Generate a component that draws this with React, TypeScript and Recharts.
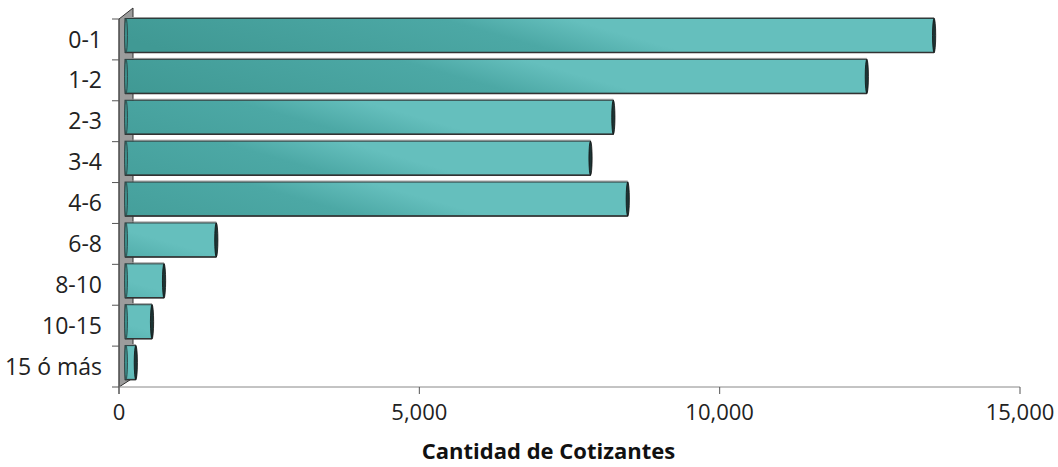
import React from "react";
import { BarChart, Bar, XAxis, YAxis, Customized } from "recharts";

const categories = ["0-1", "1-2", "2-3", "3-4", "4-6", "6-8", "8-10", "10-15", "15 ó más"];
const cotizantes = [13470, 12350, 8130, 7750, 8370, 1520, 650, 450, 180];
const xTicks = [0, 5000, 10000, 15000];

const data = categories.map((name, i) => ({ name, value: cotizantes[i] }));

const W = 1058;
const H = 467;
const LEFT = 119;
const TOP = 19;
const BOTTOM = 387;
const FONT = "'Open Sans', sans-serif";

// 3D look: bars sit a little back from the front edge of the wall
const DX = 6;
const DY = 3.5;

function BarShape(props: any) {
  const { x, y, width, height, index } = props;
  const bx = x + DX;
  const by = y - DY;
  const w = width;
  const h = height;
  const id = "bg" + index;
  // diagonal shading boundary like the original fill
  const cx = bx + 0.65 * w - 60;
  const cy = by + h / 2;
  const nx = 0.273;
  const ny = -0.962;
  return (
    <g>
      <defs>
        <linearGradient
          id={id}
          gradientUnits="userSpaceOnUse"
          x1={cx - nx * 130}
          y1={cy - ny * 130}
          x2={cx + nx * 10}
          y2={cy + ny * 10}
        >
          <stop offset="0" stopColor="#409994" />
          <stop offset="0.75" stopColor="#4ca8a5" />
          <stop offset="1" stopColor="#65bfbd" />
        </linearGradient>
      </defs>
      <line x1={bx} x2={bx + w} y1={by - 1} y2={by - 1} stroke="#9a9a9a" strokeWidth={1} />
      <rect x={bx} y={by} width={w} height={h} fill={`url(#${id})`} stroke="#2b3d3d" strokeWidth={1} />
      <line x1={bx} x2={bx + w} y1={by + h} y2={by + h} stroke="#333" strokeWidth={1.5} />
      <ellipse cx={bx + 1} cy={by + h / 2} rx={1.5} ry={h / 2} fill="#3d8f8c" stroke="#2b3d3d" strokeWidth={0.8} />
      <ellipse cx={bx + w} cy={by + h / 2} rx={1.6} ry={h / 2} fill="#1c3434" stroke="#111" strokeWidth={0.8} />
    </g>
  );
}

function Wall() {
  const n = categories.length;
  const band = (BOTTOM - TOP) / n;
  const ticks = [];
  for (let i = 0; i <= n; i++) {
    const ty = TOP + band * i;
    ticks.push(<line key={i} x1={LEFT - 7} x2={LEFT} y1={ty} y2={ty} stroke="#555" strokeWidth={1} />);
  }
  return (
    <g>
      <polygon
        points={`${LEFT},${TOP} ${LEFT + 14},${TOP - 11} ${LEFT + 14},${BOTTOM - 9} ${LEFT},${BOTTOM}`}
        fill="#9c9c9c"
        stroke="#333"
        strokeWidth={1}
      />
      <line x1={LEFT} x2={LEFT} y1={TOP} y2={BOTTOM + 7} stroke="#555" strokeWidth={1} />
      {ticks}
    </g>
  );
}

export default function App() {
  return (
    <div style={{ position: "absolute", left: 0, top: 0, background: "#fff" }}>
      <BarChart
        width={W}
        height={H}
        data={data}
        layout="vertical"
        margin={{ top: TOP, right: 38, bottom: 0, left: 0 }}
        barSize={34}
      >
        <Customized component={Wall} />
        <XAxis
          type="number"
          domain={[0, 15000]}
          ticks={xTicks}
          tickFormatter={(v: number) => v.toLocaleString("en-US")}
          height={80}
          axisLine={{ stroke: "#888" }}
          tickLine={{ stroke: "#555" }}
          tickSize={7}
          tickMargin={10}
          tick={{ fontFamily: FONT, fontSize: 22, fill: "#222" }}
          label={{
            value: "Cantidad de Cotizantes",
            position: "insideBottom",
            offset: 8,
            dx: -21,
            style: { fontFamily: FONT, fontSize: 22, fontWeight: "bold", fill: "#111" },
          }}
        />
        <YAxis
          type="category"
          dataKey="name"
          width={LEFT}
          axisLine={false}
          tickLine={false}
          tickMargin={11}
          tick={{ fontFamily: FONT, fontSize: 23, fill: "#222" }}
        />
        <Bar dataKey="value" shape={BarShape} isAnimationActive={false} />
      </BarChart>
    </div>
  );
}
